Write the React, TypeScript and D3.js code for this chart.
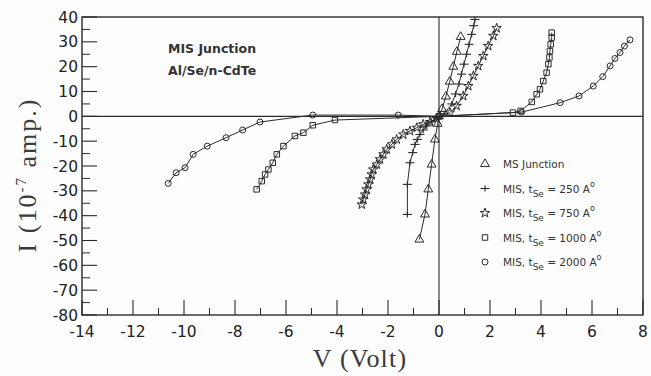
import React from 'react';
import * as d3 from 'd3';

const W = 651;
const H = 376;

// I–V data: [V (Volt), I (1e-7 amp)]
const msJunction: [number, number][] = [
  [-0.77, -49.6], [-0.55, -39.5], [-0.42, -29.4], [-0.29, -19.4], [-0.16, -9.3],
  [-0.05, -3], [0, 0], [0.12, 3], [0.27, 8], [0.42, 14], [0.56, 20], [0.7, 26], [0.85, 32],
];

const mis250: [number, number][] = [
  [-1.24, -39.5], [-1.24, -27.4], [-1.14, -18.7], [-1.03, -14.6], [-0.94, -11.3],
  [-0.85, -9.3], [-0.75, -7.3], [-0.62, -5.5], [-0.48, -3.9], [-0.3, -2], [-0.1, -0.5],
  [0.2, 1], [0.5, 5], [0.65, 9], [0.78, 13], [0.88, 17], [0.98, 21], [1.08, 25],
  [1.18, 29], [1.28, 33], [1.36, 36.5], [1.41, 39],
];

const mis750: [number, number][] = [
  [-3.03, -35.5], [-2.97, -33.5], [-2.9, -31.5], [-2.84, -29.4], [-2.77, -27.4],
  [-2.7, -25.4], [-2.64, -23.4], [-2.58, -21.4], [-2.44, -19.4], [-2.31, -17.3],
  [-2.18, -15.3], [-2.05, -13.3], [-1.85, -11.3], [-1.66, -9.3], [-1.4, -7.3],
  [-1.14, -5.9], [-0.87, -4.6], [-0.62, -3.2], [-0.35, -2.3], [-0.1, -0.8],
  [0.43, 1.5], [0.69, 4.2], [0.95, 8.2], [1.15, 12.2], [1.35, 16.3], [1.54, 20.3],
  [1.74, 24.3], [1.93, 28.3], [2.13, 32.4], [2.26, 35.5],
];

const mis1000: [number, number][] = [
  [-7.15, -29.4], [-6.95, -26.1], [-6.82, -23.4], [-6.69, -21.4], [-6.52, -18.7],
  [-6.36, -15.3], [-6.1, -12], [-5.65, -7.9], [-5.32, -6.6], [-4.95, -3.6],
  [-4.08, -1.5], [0, 0], [2.9, 1.5], [3.2, 2.2], [3.64, 5.8], [3.83, 8.9],
  [3.96, 10.9], [4.09, 14.2], [4.22, 17.6], [4.29, 21], [4.33, 23.7], [4.35, 26.3],
  [4.38, 29], [4.42, 31.7], [4.42, 33.7],
];

const mis2000: [number, number][] = [
  [-10.62, -27], [-10.31, -22.7], [-9.96, -20.7], [-9.64, -15.3], [-9.09, -12],
  [-8.35, -8.6], [-7.7, -5.5], [-7.02, -2.3], [-4.95, 0.5], [-1.6, 0.5], [0, 0],
  [3.24, 1.7], [4.75, 5.5], [5.49, 8.2], [6.05, 12.2], [6.42, 16], [6.71, 20.3],
  [6.9, 23.3], [7.1, 25.7], [7.27, 28.3], [7.49, 30.8],
];

const xTicks = d3.range(-14, 9, 2);
const xMinor = d3.range(-13, 8, 2);
const yTicks = d3.range(-80, 41, 10);
const yMinor = d3.range(-75, 40, 10);

const legendLabels = ['MS Junction', '250', '750', '1000', '2000'];

const INK = '#2b2b2b';

type Kind = 'triangle' | 'plus' | 'star' | 'square' | 'circle';

const series: { kind: Kind; data: [number, number][] }[] = [
  { kind: 'triangle', data: msJunction },
  { kind: 'plus', data: mis250 },
  { kind: 'star', data: mis750 },
  { kind: 'square', data: mis1000 },
  { kind: 'circle', data: mis2000 },
];

function Marker({ kind, x, y }: { kind: Kind; x: number; y: number }) {
  const common = { fill: 'none', stroke: INK, strokeWidth: 1 };
  if (kind === 'circle') return <circle cx={x} cy={y} r={3} {...common} />;
  if (kind === 'plus')
    return (
      <g stroke={INK} strokeWidth={1.1}>
        <line x1={x - 4.5} x2={x + 4.5} y1={y} y2={y} />
        <line x1={x} x2={x} y1={y - 3} y2={y + 3} />
      </g>
    );
  const sym =
    kind === 'triangle' ? d3.symbolTriangle : kind === 'star' ? d3.symbolStar : d3.symbolSquare;
  const size = kind === 'triangle' ? 34 : kind === 'star' ? 28 : 30;
  const d = d3.symbol(sym).size(size)() as string;
  return <path d={d} transform={`translate(${x},${y})`} {...common} />;
}

export default function App() {
  const left = 82;
  const right = 643;
  const top = 17;
  const bottom = 315;

  const x = d3.scaleLinear().domain([-14, 8]).range([left, right]);
  const y = d3.scaleLinear().domain([-80, 40]).range([bottom, top]);

  const line = d3
    .line<[number, number]>()
    .x(d => x(d[0]))
    .y(d => y(d[1]));

  const tickFont = { fontFamily: 'DejaVu Sans', fontSize: 15.5, fill: '#222' };

  return (
    <div style={{ position: 'absolute', left: 0, top: 0 }}>
      <svg width={W} height={H} style={{ display: 'block', background: '#fdfdfd' }}>
        {/* frame */}
        <rect x={left} y={top} width={right - left} height={bottom - top}
          fill="none" stroke={INK} strokeWidth={1.4} />
        {/* zero axes */}
        <line x1={left} x2={right} y1={y(0)} y2={y(0)} stroke={INK} strokeWidth={1.4} />
        <line x1={x(0)} x2={x(0)} y1={top} y2={bottom} stroke={INK} strokeWidth={1.1} />

        {/* y ticks */}
        {yTicks.map(t => (
          <g key={`y${t}`}>
            <line x1={left} x2={left + 15} y1={y(t)} y2={y(t)} stroke={INK} strokeWidth={1.1} />
            <text x={left - 4} y={y(t)} dy="0.36em" textAnchor="end" {...tickFont}>{t}</text>
          </g>
        ))}
        {yMinor.map(t => (
          <line key={`ym${t}`} x1={left} x2={left + 8} y1={y(t)} y2={y(t)} stroke={INK} strokeWidth={1} />
        ))}

        {/* x ticks */}
        {xTicks.map(t => (
          <g key={`x${t}`}>
            <line x1={x(t)} x2={x(t)} y1={bottom} y2={bottom - 15} stroke={INK} strokeWidth={1.1} />
            <text x={x(t)} y={bottom + 22} textAnchor="middle" {...tickFont}>{t}</text>
          </g>
        ))}
        {xMinor.map(t => (
          <line key={`xm${t}`} x1={x(t)} x2={x(t)} y1={bottom} y2={bottom - 7} stroke={INK} strokeWidth={1} />
        ))}

        {/* series */}
        {series.map(s => (
          <g key={s.kind}>
            <path d={line(s.data) || ''} fill="none" stroke={INK} strokeWidth={1} />
            {s.data.map((p, i) => (
              <Marker key={i} kind={s.kind} x={x(p[0])} y={y(p[1])} />
            ))}
          </g>
        ))}

        {/* annotation */}
        <text x={168} y={53} fontFamily="DejaVu Sans" fontWeight="bold" fontSize={12.5} fill="#333">MIS Junction</text>
        <text x={168} y={75} fontFamily="DejaVu Sans" fontWeight="bold" fontSize={12.5} fill="#333">Al/Se/n-CdTe</text>

        {/* legend */}
        {series.map((s, i) => {
          const by = 168 + i * 24.5;
          return (
            <g key={`lg${i}`}>
              <Marker kind={s.kind} x={485} y={by - 4} />
              <text x={503} y={by} fontFamily="DejaVu Sans" fontSize={10.5} fill="#333">
                {i === 0 ? (
                  legendLabels[0]
                ) : (
                  <>
                    {'MIS, t'}
                    <tspan dy={4} fontSize={9}>Se</tspan>
                    <tspan dy={-4}>{` = ${legendLabels[i]} A`}</tspan>
                    <tspan dy={-6} fontSize={8}>o</tspan>
                  </>
                )}
              </text>
            </g>
          );
        })}

        {/* axis titles */}
        <text x={360} y={367} textAnchor="middle" fontFamily="Liberation Serif" fontSize={26}
          letterSpacing={1.2} fill="#3a3a3a">
          {'V  (Volt)'}
        </text>
        <text transform="translate(36,175) rotate(-90)" textAnchor="middle" fontFamily="Liberation Serif"
          fontSize={26} letterSpacing={2} fill="#3a3a3a">
          {'I (10'}
          <tspan dy={-10} fontSize={15}>-7</tspan>
          <tspan dy={10}>{' amp.)'}</tspan>
        </text>
      </svg>
    </div>
  );
}
